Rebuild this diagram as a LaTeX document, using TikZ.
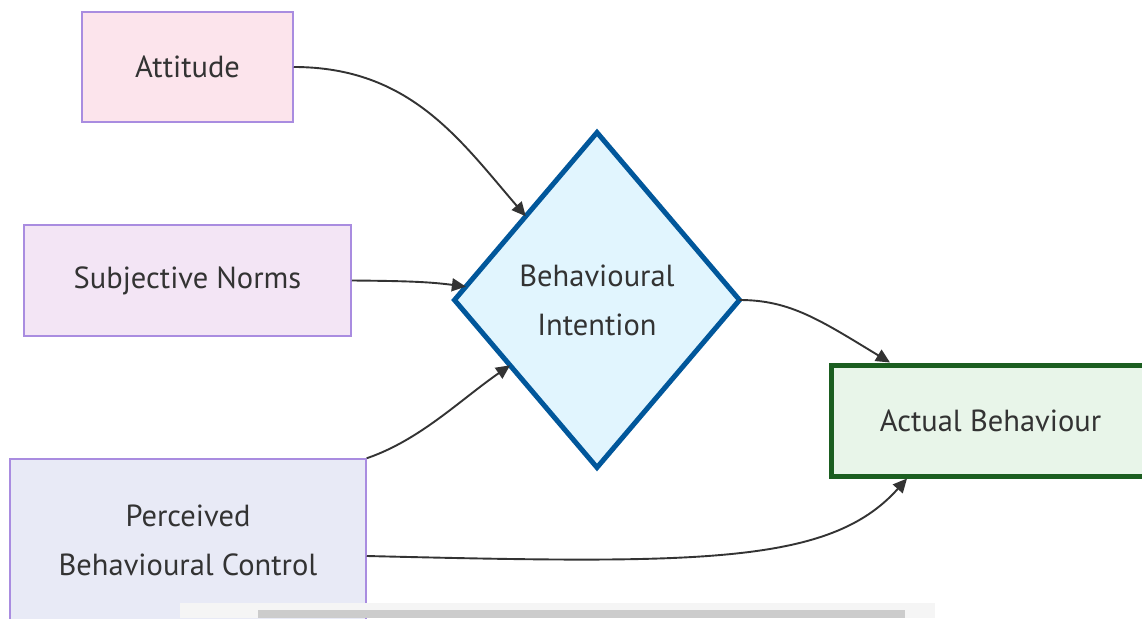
\documentclass[tikz,border=0pt]{standalone}
\usepackage{fontspec}
\setmainfont{PT Sans}
\usetikzlibrary{shapes.geometric,arrows.meta,calc}
\definecolor{txt}{HTML}{333333}
\definecolor{edgec}{HTML}{333333}
\definecolor{purpleb}{HTML}{A98CE0}
\definecolor{attfill}{HTML}{FCE4EC}
\definecolor{snfill}{HTML}{F3E5F5}
\definecolor{pbcfill}{HTML}{E8EAF6}
\definecolor{bifill}{HTML}{E1F5FE}
\definecolor{bidraw}{HTML}{01579B}
\definecolor{abfill}{HTML}{E8F5E9}
\definecolor{abdraw}{HTML}{1B5E20}
\tikzset{
  x=1pt, y=-1pt,
  lbl/.style={text=txt, font=\fontsize{30.5}{49}\selectfont, align=center},
  srcbox/.style={lbl, rectangle, draw=purpleb, line width=1.5pt, inner sep=0pt},
  conn/.style={draw=edgec, line width=1.9pt, -{Triangle[length=14pt,width=13pt]}},
}
\begin{document}
\begin{tikzpicture}
\useasboundingbox (0,0) rectangle (1142,618);
\clip (0,0) rectangle (1142,618);
\fill[white] (0,0) rectangle (1142,618);
\node[srcbox, fill=attfill, minimum width=211pt, minimum height=110pt] (att) at (187.5,67) {Attitude};
\node[srcbox, fill=snfill, minimum width=327pt, minimum height=111pt] (sn) at (187.5,280.5) {Subjective Norms};
\node[srcbox, fill=pbcfill, minimum width=356pt, minimum height=162pt] (pbc) at (188,540) {Perceived\\Behavioural Control};
\node[lbl, diamond, draw=bidraw, fill=bifill, line width=5pt, minimum width=285pt, minimum height=335pt, inner sep=0pt, outer sep=0pt] (bi) at (597,300) {Behavioural\\Intention};
\node[lbl, rectangle, draw=abdraw, fill=abfill, line width=5pt, minimum width=318pt, minimum height=111pt, inner sep=0pt, anchor=west] (ab) at (829,420.5) {Actual Behaviour};
\coordinate (snend) at ($(bi.west)!0.08!(bi.north)$);
\coordinate (pbcend) at ($(bi.west)!0.39!(bi.south)$);
\coordinate (abtop) at ($(ab.north west)+(61,0)$);
\coordinate (abbot) at ($(ab.south west)+(78,0)$);
\draw[conn] (att.east) .. controls (410,67) and (460,140) .. (bi.north west);
\draw[conn] (sn.east) .. controls (410,281) and (430,282) .. (snend);
\draw[conn] (pbc.north east) .. controls (420,440) and (460,400) .. (pbcend);
\draw[conn] (bi.east) .. controls (790,300) and (820,320) .. (abtop);
\draw[conn] ($(pbc.east)+(0,16)$) .. controls (700,564) and (830,565) .. (abbot);
\fill[gray!8] (180,603) rectangle (935,618);
\fill[gray!40] (258,610) rectangle (905,618);
\end{tikzpicture}
\end{document}
